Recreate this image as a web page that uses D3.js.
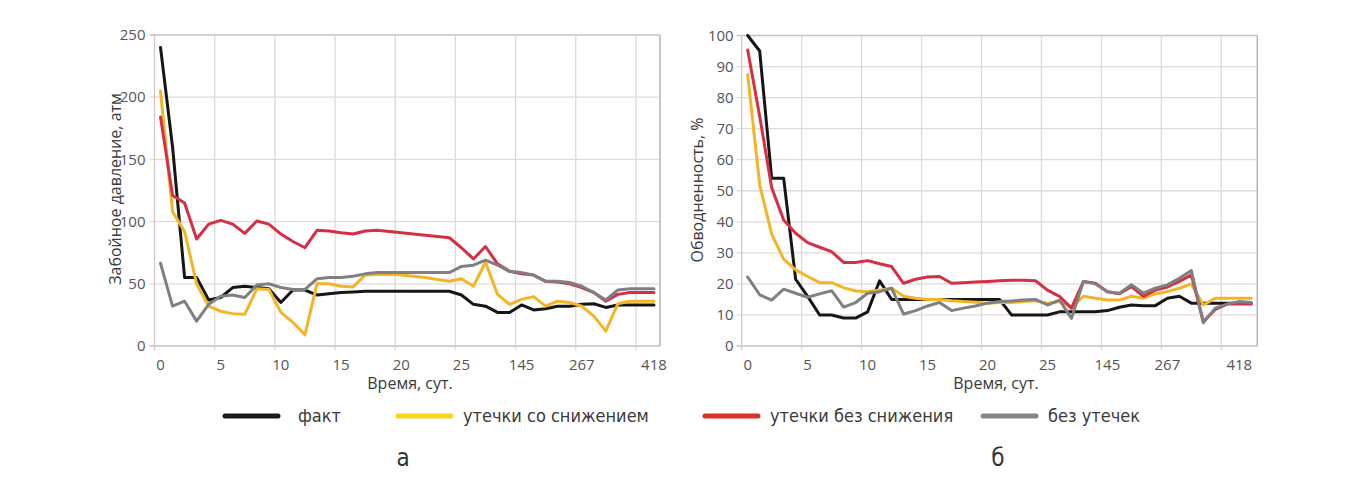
<!DOCTYPE html>
<html>
<head>
<meta charset="utf-8">
<script src="https://cdn.jsdelivr.net/npm/d3@7"></script>
<style>
  html, body { margin: 0; padding: 0; background: #fff; }
  svg { display: block; }
  .tick-label { font-family: "Open Sans", sans-serif; font-size: 15px; fill: #555; }
  .axis-title { font-family: "Open Sans", sans-serif; font-size: 16px; fill: #3a3a3a; }
  .legend-text { font-family: "Liberation Sans Narrow", "DejaVu Sans Condensed", sans-serif; font-size: 18px; fill: #3a3a3a; }
  .panel-label { font-family: "Liberation Sans Narrow", "DejaVu Sans Condensed", sans-serif; font-size: 24px; fill: #333; }
</style>
</head>
<body>
<svg id="chart" width="1348" height="477"></svg>
<script>
// Series names and colours
const seriesNames = ["факт", "утечки со снижением", "утечки без снижения", "без утечек"];
const lineColors = ["#161616", "#f3b526", "#d62f45", "#808080"];
const legendColors = ["#1a1a1a", "#f8d41c", "#da3325", "#868686"];

// Time axis labels (every fifth sample is labelled, plus the final 418 days)
const timeTickLabels = ["0", "5", "10", "15", "20", "25", "145", "267", "418"];
const timeTickIndex = [0, 5, 10, 15, 20, 25, 30, 35, 41];

// (а) Bottom-hole pressure, atm
const pressureFact = [240, 160, 55, 55, 37, 39, 47, 48, 47, 46, 35, 45, 45, 41, 42, 43, 43.5, 44, 44, 44, 44, 44, 44, 44, 44, 41, 33.5, 32, 27, 27, 33, 29, 30, 32, 32, 33.5, 34, 31, 33, 33, 33, 33];
const pressureLeakDecline = [205, 108, 92, 50, 32, 28, 26, 25.5, 46, 45.5, 27, 19, 9, 50, 50, 48, 47.5, 57, 57.5, 57.6, 57, 56, 55, 53.5, 52, 54, 48, 67.5, 41.5, 33.5, 37.5, 39.7, 32, 36, 35, 32, 24, 12, 34, 36, 36, 36];
const pressureLeakNoDecline = [184, 121, 115, 86, 98, 101, 98, 90.5, 100.5, 98, 90, 84, 79, 93, 92.5, 91, 90, 92.5, 93, 92, 91, 90, 89, 88, 87, 79, 70, 80, 66, 60, 58, 57, 52, 51.5, 50, 47, 43, 36, 41.5, 43, 43, 43];
const pressureNoLeak = [66.5, 32, 36, 20, 33.5, 40, 41, 39, 49, 50, 47, 45.5, 45.5, 54, 55, 55, 56, 58, 59, 59, 59, 59, 59, 59, 59, 64, 65, 69, 65, 60, 59, 57, 52, 52, 51, 48, 43, 37, 45, 46, 46, 46];
const pressureTicks = [0, 50, 100, 150, 200, 250];

// (б) Water cut, %
const waterCutFact = [100, 95, 54, 54, 21.5, 16, 10, 10, 9, 9, 11, 21, 15, 15, 15, 15, 15, 15, 15, 15, 15, 15, 10, 10, 10, 10, 11, 11, 11, 11, 11.4, 12.5, 13.2, 13, 13, 15.4, 16, 13.8, 13.8, 13.8, 13.8, 13.8, 13.8];
const waterCutLeakDecline = [87.4, 52, 36, 28, 24.5, 22.4, 20.4, 20.4, 18.8, 17.7, 17.5, 18, 18.6, 16, 15.4, 15, 15, 14.6, 14.3, 14.1, 13.8, 14, 14, 14.3, 14.6, 13.8, 14.3, 12.5, 16, 15.4, 14.8, 14.8, 16, 15.4, 16.8, 17.5, 18.6, 20, 13.2, 15.4, 15.4, 15.4, 15.4];
const waterCutLeakNoDecline = [95.3, 74, 51, 40.6, 36.3, 33.3, 31.8, 30.4, 26.9, 26.9, 27.5, 26.5, 25.6, 20.2, 21.5, 22.2, 22.4, 20.2, 20.4, 20.6, 20.8, 21, 21.2, 21.2, 21, 18, 16, 12.2, 20.8, 20.2, 17.5, 16.8, 19.1, 16, 18, 19, 20.8, 22.9, 7.8, 11.8, 13.5, 13.5, 13.5];
const waterCutNoLeak = [22.2, 16.5, 14.8, 18.3, 17, 15.7, 16.8, 17.8, 12.5, 14, 17, 17.5, 18.6, 10.3, 11.4, 12.9, 14, 11.4, 12.2, 12.9, 13.8, 14.3, 14.5, 14.8, 15, 13.2, 14.8, 8.9, 20.8, 20, 17.5, 17, 19.7, 17, 18.6, 19.7, 21.8, 24.3, 7.5, 12.2, 13.5, 14.3, 14];
const waterCutTicks = [0, 10, 20, 30, 40, 50, 60, 70, 80, 90, 100];

const svg = d3.select("#chart");

function drawPanel(cfg) {
  const g = svg.append("g");
  const n = cfg.series[0].length;
  const x = d3.scaleBand().domain(d3.range(n)).range([cfg.left, cfg.right]).paddingInner(0).paddingOuter(0);
  const bw = x.bandwidth();
  const cx = i => x(i) + bw / 2;
  const y = d3.scaleLinear().domain([0, cfg.yMax]).range([cfg.bottom, cfg.top]);

  // horizontal grid
  g.selectAll("line.hgrid").data(cfg.yTicks).join("line")
    .attr("x1", cfg.left - 5).attr("x2", cfg.right)
    .attr("y1", d => y(d)).attr("y2", d => y(d))
    .attr("stroke", d => d === cfg.yMax ? "#c9c2c2" : "#e2dada").attr("stroke-width", 1.3);

  // vertical grid every five samples
  const vLines = d3.range(5, n, 5);
  g.selectAll("line.vgrid").data(vLines).join("line")
    .attr("x1", d => x(d)).attr("x2", d => x(d))
    .attr("y1", cfg.top).attr("y2", cfg.bottom + 4)
    .attr("stroke", "#e0d8d8").attr("stroke-width", 1.3);

  // axes and frame
  g.append("line").attr("x1", cfg.left).attr("x2", cfg.left).attr("y1", cfg.top).attr("y2", cfg.bottom + 4)
    .attr("stroke", "#d0c8c8").attr("stroke-width", 1.3);
  g.append("line").attr("x1", cfg.left - 5).attr("x2", cfg.right).attr("y1", cfg.bottom).attr("y2", cfg.bottom)
    .attr("stroke", "#d0c8c8").attr("stroke-width", 1.3);
  g.append("line").attr("x1", cfg.right).attr("x2", cfg.right).attr("y1", cfg.top).attr("y2", cfg.bottom)
    .attr("stroke", "#bdb5b5").attr("stroke-width", 1.6);

  // y tick labels
  g.selectAll("text.ytick").data(cfg.yTicks).join("text")
    .attr("class", "tick-label")
    .attr("x", cfg.left - cfg.yLabelGap).attr("y", d => y(d))
    .attr("dy", "0.35em").attr("text-anchor", "end")
    .text(d => d);

  // x tick labels
  g.selectAll("text.xtick").data(timeTickLabels).join("text")
    .attr("class", "tick-label")
    .attr("x", (d, k) => cx(timeTickIndex[k])).attr("y", cfg.bottom + 24)
    .attr("text-anchor", "middle")
    .text(d => d);

  // titles
  g.append("text").attr("class", "axis-title")
    .attr("x", cfg.xTitleX).attr("y", cfg.bottom + 43).attr("text-anchor", "middle")
    .text("Время, сут.");
  g.append("text").attr("class", "axis-title")
    .attr("transform", `translate(${cfg.yTitleX},${cfg.yTitleY}) rotate(-90)`)
    .attr("text-anchor", "middle").attr("dy", "0.35em")
    .text(cfg.yTitle);

  // series lines
  const line = d3.line().x((d, i) => cx(i)).y(d => y(d));
  cfg.series.forEach((s, k) => {
    g.append("path").datum(s)
      .attr("d", line)
      .attr("fill", "none")
      .attr("stroke", lineColors[k])
      .attr("stroke-width", 3)
      .attr("stroke-linejoin", "round")
      .attr("stroke-linecap", "round");
  });
}

drawPanel({
  left: 154.5, right: 660, top: 35, bottom: 346,
  yMax: 250, yTicks: pressureTicks, yLabelGap: 9,
  series: [pressureFact, pressureLeakDecline, pressureLeakNoDecline, pressureNoLeak],
  yTitle: "Забойное давление, атм", yTitleX: 115, yTitleY: 189,
  xTitleX: 410
});

drawPanel({
  left: 741.7, right: 1257.3, top: 35.5, bottom: 346,
  yMax: 100, yTicks: waterCutTicks, yLabelGap: 8,
  series: [waterCutFact, waterCutLeakDecline, waterCutLeakNoDecline, waterCutNoLeak],
  yTitle: "Обводненность, %", yTitleX: 697, yTitleY: 190,
  xTitleX: 996
});

// legend
const legendX = [225, 398, 705, 983];
const legend = svg.append("g");
seriesNames.forEach((name, k) => {
  legend.append("line")
    .attr("x1", legendX[k]).attr("x2", legendX[k] + 53)
    .attr("y1", 416).attr("y2", 416)
    .attr("stroke", legendColors[k]).attr("stroke-width", 5).attr("stroke-linecap", "round");
  legend.append("text").attr("class", "legend-text")
    .attr("x", legendX[k] + (k === 0 ? 73 : 65)).attr("y", 416).attr("dy", "0.35em")
    .text(name);
});

// panel captions
svg.append("text").attr("class", "panel-label").attr("x", 403).attr("y", 458).attr("dy", "0.35em")
  .attr("text-anchor", "middle").text("а");
svg.append("text").attr("class", "panel-label").attr("x", 998).attr("y", 458).attr("dy", "0.35em")
  .attr("text-anchor", "middle").text("б");
</script>
</body>
</html>
